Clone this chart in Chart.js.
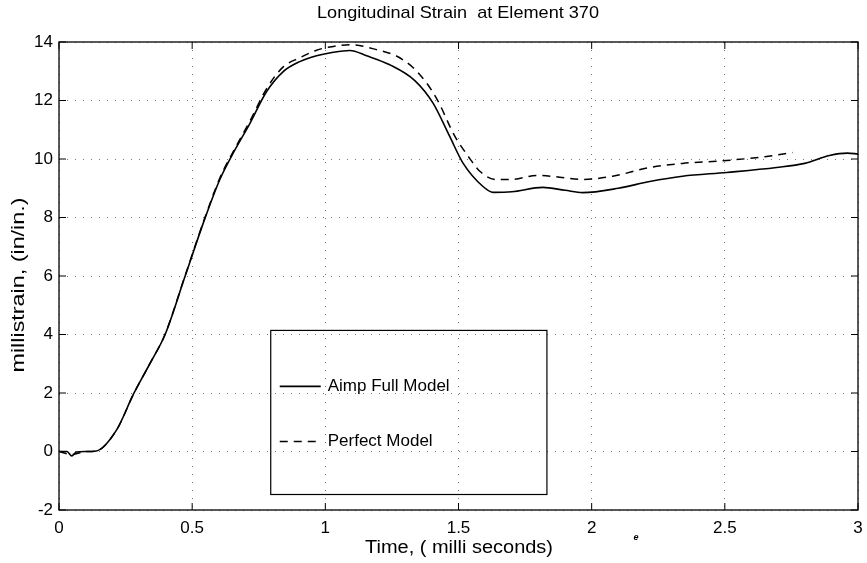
<!DOCTYPE html>
<html>
<head>
<meta charset="utf-8">
<script src="https://cdn.jsdelivr.net/npm/chart.js@4/dist/chart.umd.min.js"></script>
<style>
    html, body { margin: 0; padding: 0; background: #fff; }
    #wrap { width: 867px; height: 563px; position: relative; }
</style>
</head>
<body>
<div id="wrap"><canvas id="strainChart"></canvas></div>
<script>
// Aimp full model curve (time in ms, millistrain)
const timeAimp = [0, 0.03, 0.048, 0.065, 0.1, 0.14, 0.217, 0.279, 0.341, 0.398, 0.473, 0.548, 0.604, 0.66,
    0.717, 0.779, 0.842, 0.904, 0.967, 1.03, 1.092, 1.155, 1.242, 1.336, 1.405, 1.467, 1.517, 1.592, 1.63,
    1.7, 1.816, 1.9, 1.966, 2.1, 2.218, 2.341, 2.507, 2.694, 2.8, 2.893, 2.96, 3.0];
const strainAimp = [0, 0, -0.15, -0.02, 0, 0.02, 0.75, 1.95, 3.0, 3.99, 5.98, 7.97, 9.3, 10.3,
    11.22, 12.3, 12.99, 13.33, 13.53, 13.65, 13.71, 13.53, 13.22, 12.68, 11.9, 10.77, 9.86, 9.06, 8.86,
    8.88, 9.03, 8.93, 8.85, 9.0, 9.23, 9.41, 9.54, 9.71, 9.85, 10.12, 10.2, 10.17];

// Perfect model curve
const timePerfect = [0, 0.048, 0.1, 0.14, 0.217, 0.279, 0.341, 0.398, 0.473, 0.548, 0.604, 0.66,
    0.717, 0.779, 0.842, 0.904, 0.967, 1.03, 1.092, 1.192, 1.267, 1.33, 1.38, 1.423, 1.486, 1.536, 1.58,
    1.642, 1.7, 1.794, 1.88, 1.966, 2.079, 2.218, 2.341, 2.507, 2.65, 2.754];
const strainPerfect = [0, -0.1, 0, 0.02, 0.75, 1.95, 3.0, 4.0, 6.0, 8.0, 9.35, 10.35,
    11.3, 12.4, 13.15, 13.46, 13.72, 13.85, 13.91, 13.74, 13.52, 13.12, 12.6, 11.98, 10.78, 10.1, 9.58,
    9.3, 9.3, 9.44, 9.38, 9.3, 9.41, 9.71, 9.85, 9.95, 10.08, 10.22];

const seriesNames = ['Aimp Full Model', 'Perfect Model'];
const xTicks = [0, 0.5, 1, 1.5, 2, 2.5, 3];
const yTicks = [-2, 0, 2, 4, 6, 8, 10, 12, 14];

const FONT = '"Liberation Sans", Arial, Helvetica, sans-serif';

function toPoints(xs, ys) {
    return xs.map((x, i) => ({ x: x, y: ys[i] }));
}

// draw text squeezed/stretched to a target width
function fitText(ctx, text, x, y, size, width, rotate) {
    ctx.save();
    ctx.font = size + 'px ' + FONT;
    const w = ctx.measureText(text).width;
    ctx.translate(x, y);
    if (rotate) ctx.rotate(-Math.PI / 2);
    ctx.scale(width / w, 1);
    ctx.textAlign = 'center';
    ctx.textBaseline = 'middle';
    ctx.fillStyle = '#000';
    ctx.fillText(text, 0, 0);
    ctx.restore();
}

/**
 * MATLAB style frame, inward ticks, boxed legend and labels
 */
const matlabFrame = {
    id: 'matlabFrame',
    afterDraw(chart) {
        const ctx = chart.ctx;
        const a = chart.chartArea;
        const xs = chart.scales.x;
        const ys = chart.scales.y;

        ctx.save();
        ctx.strokeStyle = '#000';
        ctx.lineWidth = 1.3;
        ctx.setLineDash([]);
        ctx.strokeRect(a.left, a.top, a.right - a.left, a.bottom - a.top);

        // inward ticks on all four sides
        ctx.lineWidth = 1;
        ctx.beginPath();
        xTicks.forEach(v => {
            const px = xs.getPixelForValue(v);
            ctx.moveTo(px, a.bottom); ctx.lineTo(px, a.bottom - 7);
            ctx.moveTo(px, a.top); ctx.lineTo(px, a.top + 7);
        });
        yTicks.forEach(v => {
            const py = ys.getPixelForValue(v);
            ctx.moveTo(a.left, py); ctx.lineTo(a.left + 7, py);
            ctx.moveTo(a.right, py); ctx.lineTo(a.right - 7, py);
        });
        ctx.stroke();

        // legend box
        const bx0 = xs.getPixelForValue(0.795);
        const bx1 = xs.getPixelForValue(1.832);
        const by0 = ys.getPixelForValue(4.14);
        const by1 = ys.getPixelForValue(-1.47);
        ctx.lineWidth = 1.2;
        ctx.strokeRect(bx0, by0, bx1 - bx0, by1 - by0);

        const rows = [by0 + 56, by0 + 111];
        chart.data.datasets.forEach((ds, i) => {
            ctx.save();
            ctx.lineWidth = ds.borderWidth;
            ctx.setLineDash(ds.borderDash || []);
            ctx.beginPath();
            ctx.moveTo(bx0 + 9, rows[i]);
            ctx.lineTo(bx0 + 50, rows[i]);
            ctx.stroke();
            ctx.restore();
            ctx.font = '17px ' + FONT;
            ctx.fillStyle = '#000';
            ctx.textAlign = 'left';
            ctx.textBaseline = 'middle';
            ctx.fillText(ds.label, bx0 + 57, rows[i]);
        });
        ctx.restore();

        // titles
        fitText(ctx, 'Longitudinal Strain  at Element 370', 458, 13, 17, 282, false);
        fitText(ctx, 'Time, ( milli seconds)', 459, 548, 18, 188, false);
        fitText(ctx, 'millistrain, (in/in.)', 19, 285, 18, 175, true);

        // stray scan mark near the x label
        ctx.save();
        ctx.font = 'italic bold 9px ' + FONT;
        ctx.fillStyle = '#000';
        ctx.textAlign = 'center';
        ctx.textBaseline = 'middle';
        ctx.fillText('e', 636, 538);
        ctx.restore();
    }
};

const ctx = document.getElementById('strainChart').getContext('2d');
new Chart(ctx, {
    type: 'line',
    data: {
        datasets: [{
            label: seriesNames[0],
            data: toPoints(timeAimp, strainAimp),
            borderColor: '#000',
            borderWidth: 1.6,
            pointRadius: 0,
            cubicInterpolationMode: 'monotone',
            fill: false
        }, {
            label: seriesNames[1],
            data: toPoints(timePerfect, strainPerfect),
            borderColor: '#000',
            borderWidth: 1.5,
            borderDash: [8, 6],
            pointRadius: 0,
            cubicInterpolationMode: 'monotone',
            fill: false
        }]
    },
    options: {
        responsive: true,
        maintainAspectRatio: false,
        animation: false,
        layout: { padding: { top: 42, right: 9, left: 0, bottom: 0 } },
        plugins: {
            legend: { display: false },
            title: { display: false },
            tooltip: { enabled: false }
        },
        scales: {
            x: {
                type: 'linear',
                min: 0,
                max: 3,
                afterFit: scale => {
                    scale.height = 53;
                    scale.paddingLeft = 0;
                    scale.paddingRight = 0;
                },
                afterBuildTicks: scale => { scale.ticks = xTicks.map(v => ({ value: v })); },
                ticks: {
                    color: '#000',
                    padding: 8,
                    maxRotation: 0,
                    font: { family: FONT, size: 17 },
                    callback: v => String(v)
                },
                grid: { color: '#777', lineWidth: 1, drawTicks: false },
                border: { display: false, dash: [1, 7] }
            },
            y: {
                min: -2,
                max: 14,
                afterFit: scale => {
                    scale.width = 59;
                    scale.paddingTop = 0;
                    scale.paddingBottom = 0;
                },
                afterBuildTicks: scale => { scale.ticks = yTicks.map(v => ({ value: v })); },
                ticks: {
                    color: '#000',
                    padding: 6,
                    font: { family: FONT, size: 17 },
                    callback: v => String(v)
                },
                grid: { color: '#777', lineWidth: 1, drawTicks: false },
                border: { display: false, dash: [1, 7] }
            }
        }
    },
    plugins: [matlabFrame]
});
</script>
</body>
</html>
